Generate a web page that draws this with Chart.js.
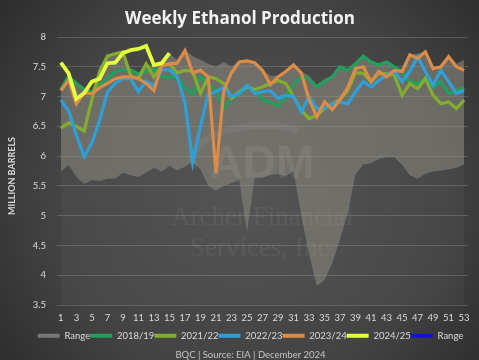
<!DOCTYPE html>
<html>
<head>
<meta charset="utf-8">
<script src="https://cdn.jsdelivr.net/npm/chart.js@4.4.1/dist/chart.umd.min.js"></script>
<style>
html,body{margin:0;padding:0;background:#2e2e2e;}
#wrap{width:479px;height:360px;}
</style>
</head>
<body>
<div id="wrap"><canvas id="c" width="479" height="360"></canvas></div>
<script>
const weeks = ['1','2','3','4','5','6','7','8','9','10','11','12','13','14','15','16','17','18','19','20','21','22','23','24','25','26','27','28','29','30','31','32','33','34','35','36','37','38','39','40','41','42','43','44','45','46','47','48','49','50','51','52','53'];

const rangeMin = [5.74,5.85,5.65,5.53,5.6,5.58,5.62,5.62,5.72,5.68,5.65,5.72,5.8,5.74,5.84,5.76,5.82,5.9,5.78,5.5,5.42,5.5,5.55,5.6,4.72,5.64,5.64,5.68,5.7,5.66,5.75,5.0,4.35,3.82,3.92,4.2,4.6,5.05,5.7,5.86,5.88,5.95,5.98,5.98,5.85,5.68,5.62,5.7,5.74,5.76,5.78,5.8,5.86];
const rangeMax = [7.15,7.35,7.25,7.15,7.1,7.5,7.7,7.73,7.75,7.45,7.4,7.55,7.5,7.6,7.72,7.62,7.78,7.68,7.62,7.55,7.5,7.58,7.5,7.6,7.62,7.58,7.45,7.35,7.35,7.42,7.55,7.42,7.35,7.2,7.3,7.35,7.5,7.45,7.55,7.7,7.6,7.55,7.6,7.5,7.45,7.7,7.72,7.75,7.5,7.5,7.68,7.55,7.62];

const y2018 = [7.12,7.34,7.22,7.12,7.08,7.2,7.3,7.42,7.45,7.45,7.38,7.42,7.46,7.33,7.33,7.33,7.14,7.04,7.33,7.22,7.1,6.8,6.97,7.04,7.16,7.1,6.95,6.9,6.84,7.0,7.2,7.33,7.3,7.16,7.25,7.33,7.5,7.44,7.55,7.68,7.58,7.53,7.58,7.5,7.42,7.25,7.22,7.3,7.16,7.25,7.05,7.1,7.15];
const y2021 = [6.47,6.56,6.5,6.42,6.95,7.42,7.68,7.72,7.75,7.35,7.3,7.55,7.33,7.52,7.55,7.4,7.44,7.42,7.05,7.33,7.3,7.22,6.97,7.08,7.16,7.12,7.16,7.22,7.27,7.22,7.0,6.77,6.63,6.68,6.8,6.88,6.95,7.1,7.4,7.39,7.25,7.39,7.38,7.36,7.02,7.22,7.13,7.3,7.02,6.88,6.91,6.8,6.94];
const y2022 = [6.94,6.76,6.35,5.99,6.22,6.6,7.07,7.22,7.3,7.3,7.08,7.26,7.18,7.45,7.45,7.33,6.9,5.9,6.5,7.04,7.08,7.16,7.0,7.05,7.19,7.05,7.08,7.1,6.97,7.02,7.0,6.74,7.0,6.8,6.8,6.88,6.91,6.88,7.08,7.25,7.16,7.27,7.36,7.42,7.25,7.42,7.67,7.42,7.19,7.44,7.25,7.05,7.1];
const y2023 = [7.1,7.28,6.88,7.06,7.05,7.15,7.22,7.3,7.33,7.33,7.3,7.22,7.1,7.52,7.55,7.56,7.77,7.4,7.44,7.33,5.72,7.1,7.4,7.58,7.6,7.57,7.44,7.2,7.33,7.42,7.53,7.4,6.95,6.66,6.91,6.78,6.95,7.15,7.47,7.5,7.25,7.42,7.33,7.44,7.42,7.7,7.64,7.75,7.47,7.5,7.67,7.5,7.44];
const y2024 = [7.57,7.39,6.96,7.06,7.25,7.3,7.56,7.57,7.73,7.78,7.8,7.85,7.53,7.56,7.73];
const rangeBlue = [];

const yTicks = [3.5,4,4.5,5,5.5,6,6.5,7,7.5,8];

const COLORS = {
  range: 'rgba(150,145,137,0.52)',
  rangeLegend: '#7a7874',
  c2018: '#20a05c',
  c2021: '#83ad2e',
  c2022: '#2ea0d8',
  c2023: '#dc8c46',
  c2024: '#e6ff3c',
  blue: '#1212d2'
};

function drawWatermark(ctx){
  ctx.save();
  ctx.strokeStyle = 'rgba(255,255,255,0.055)';
  ctx.lineWidth = 7;
  ctx.beginPath();
  ctx.ellipse(252,152,60,26,-0.12,Math.PI*0.9,Math.PI*1.8);
  ctx.stroke();
  ctx.fillStyle = 'rgba(255,255,255,0.07)';
  ctx.textAlign = 'center';
  ctx.textBaseline = 'alphabetic';
  ctx.font = 'bold 46px "Liberation Sans"';
  ctx.fillText('ADM', 262, 178);
  ctx.fillStyle = 'rgba(255,255,255,0.06)';
  ctx.font = '27px "Liberation Serif"';
  ctx.fillText('Archer Financial', 262, 225);
  ctx.fillText('Services, Inc.', 263, 256);
  ctx.restore();
}

const decor = {
  id: 'decor',
  beforeDraw(chart){
    const ctx = chart.ctx;
    ctx.save();
    const g = ctx.createRadialGradient(245,185,10,245,185,320);
    g.addColorStop(0,'#4f4f4f');
    g.addColorStop(0.6,'#434343');
    g.addColorStop(1,'#2a2a2a');
    ctx.fillStyle = g;
    ctx.fillRect(0,0,chart.width,chart.height);
    ctx.restore();
  },
  afterDatasetDraw(chart, args){
    if (args.index === 1) drawWatermark(chart.ctx);
  },
  afterDraw(chart){
    const ctx = chart.ctx;
    ctx.save();
    ctx.fillStyle = '#f2f2f2';
    ctx.font = 'bold 17px "Open Sans"';
    ctx.textAlign = 'center';
    ctx.textBaseline = 'middle';
    ctx.fillText('Weekly Ethanol Production', 240, 19);
    ctx.translate(12, 176);
    ctx.rotate(-Math.PI/2);
    ctx.fillStyle = '#d9d9d9';
    ctx.font = 'bold 9px Lato';
    ctx.fillText('MILLION BARRELS', 0, 0);
    ctx.restore();
  }
};

Chart.defaults.font.family = 'Lato';

function lineDs(label, data, color, order, width){
  return {label, data, borderColor: color, backgroundColor: color, borderWidth: width || 3.2,
          pointRadius: 0, tension: 0, fill: false, order, yAxisID: 'y'};
}

new Chart(document.getElementById('c'), {
  type: 'line',
  data: {
    labels: weeks,
    datasets: [
      {label: 'RangeLow', data: rangeMin, borderWidth: 0, pointRadius: 0, fill: 'start',
       backgroundColor: 'rgba(255,255,255,0.03)', borderColor: 'rgba(0,0,0,0)', order: 12, yAxisID: 'y'},
      {label: 'Range', data: rangeMax, borderWidth: 0, pointRadius: 0, fill: '-1',
       backgroundColor: COLORS.range, borderColor: COLORS.rangeLegend, order: 11, yAxisID: 'y'},
      lineDs('2018/19', y2018, COLORS.c2018, 5),
      lineDs('2021/22', y2021, COLORS.c2021, 4),
      lineDs('2022/23', y2022, COLORS.c2022, 3),
      lineDs('2023/24', y2023, COLORS.c2023, 2),
      lineDs('2024/25', y2024, COLORS.c2024, 1, 3.8),
      lineDs('Range', rangeBlue, COLORS.blue, 0)
    ]
  },
  options: {
    responsive: false,
    animation: false,
    devicePixelRatio: 1,
    layout: {padding: {left: 22, right: 0, top: 37, bottom: 0}},
    scales: {
      x: {
        type: 'category',
        offset: true,
        grid: {display: false, drawTicks: false},
        border: {display: false},
        ticks: {
          color: '#d9d9d9', font: {size: 9.5}, autoSkip: false, maxRotation: 0, padding: 7,
          callback(val, idx){ return idx % 2 === 0 ? this.getLabelForValue(val) : ''; }
        },
        afterFit(s){ s.height = 26; }
      },
      y: {
        min: 3.5, max: 8,
        afterBuildTicks(s){ s.ticks = yTicks.map(v => ({value: v})); },
        grid: {color: 'rgba(255,255,255,0.16)', lineWidth: 1, drawTicks: false},
        border: {display: false},
        ticks: {color: '#d9d9d9', font: {size: 9.5}, padding: 11, callback: v => String(v)},
        afterFit(s){ s.width = 35; }
      },
      y2: {
        position: 'right', min: 0, max: 1,
        grid: {display: false}, border: {display: false}, ticks: {display: false},
        afterFit(s){ s.width = 11; }
      }
    },
    plugins: {
      legend: {
        position: 'bottom',
        labels: {
          color: '#d9d9d9', font: {size: 9.5}, boxWidth: 22, boxHeight: 4, padding: 0,
          sort: (a, b) => a.datasetIndex - b.datasetIndex,
          generateLabels(chart){
            const items = Chart.defaults.plugins.legend.labels.generateLabels(chart);
            return items.filter(it => it.datasetIndex !== 0).map(it => {
              const ds = chart.data.datasets[it.datasetIndex];
              const col = it.datasetIndex === 1 ? COLORS.rangeLegend : ds.borderColor;
              it.fillStyle = col; it.strokeStyle = col; it.lineWidth = 0;
              return it;
            });
          }
        },
        onClick(){}
      },
      subtitle: {
        display: true, position: 'bottom', text: 'BQC | Source: EIA | December 2024',
        color: '#c4c4c4', font: {size: 9.5, weight: 'normal', lineHeight: 1}, padding: {top: 0, bottom: 0}
      },
      title: {display: false},
      tooltip: {enabled: false}
    }
  },
  plugins: [decor]
});
</script>
</body>
</html>
